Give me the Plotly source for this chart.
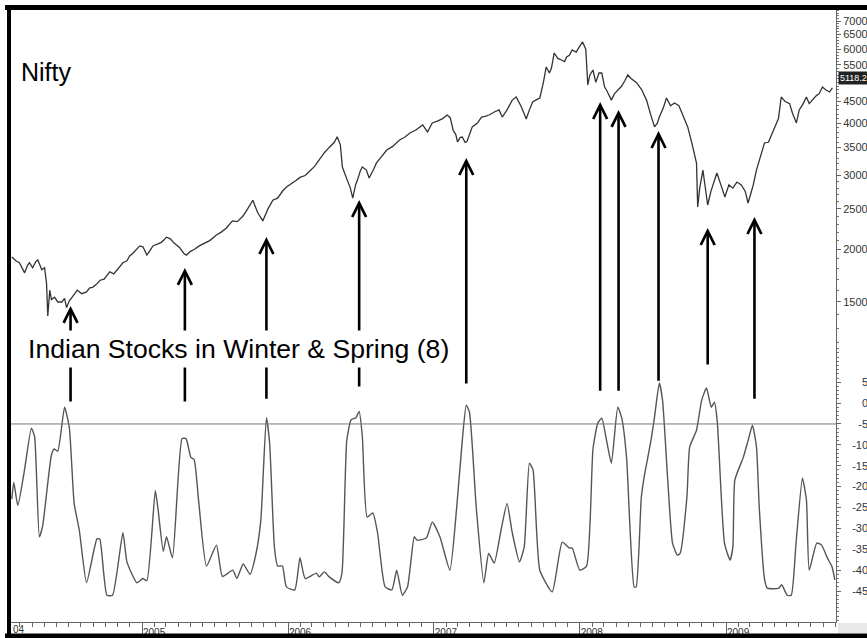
import math
import plotly.graph_objects as go

# ---------------- data ----------------
price_dates = [
    "2004-02-10", "2004-02-20", "2004-02-29", "2004-03-08", "2004-03-13", "2004-03-20", "2004-03-25",
    "2004-04-02", "2004-04-10", "2004-04-15", "2004-04-25", "2004-05-02", "2004-05-07", "2004-05-10",
    "2004-05-15", "2004-05-19", "2004-05-27", "2004-06-04", "2004-06-14", "2004-06-21", "2004-06-26",
    "2004-07-03", "2004-07-08", "2004-07-16", "2004-07-23", "2004-08-03", "2004-08-15", "2004-08-23",
    "2004-08-30", "2004-09-08", "2004-09-18", "2004-09-28", "2004-10-05", "2004-10-12", "2004-10-22",
    "2004-11-02", "2004-11-14", "2004-11-24", "2004-12-01", "2004-12-09", "2004-12-19", "2004-12-26",
    "2005-01-03", "2005-01-13", "2005-01-21", "2005-01-28", "2005-02-08", "2005-02-18", "2005-02-25",
    "2005-03-03", "2005-03-13", "2005-03-20", "2005-03-28", "2005-04-05", "2005-04-15", "2005-04-22",
    "2005-05-02", "2005-05-11", "2005-05-24", "2005-06-06", "2005-06-19", "2005-07-06", "2005-07-18",
    "2005-07-31", "2005-08-15", "2005-08-27", "2005-09-10", "2005-09-22", "2005-10-05", "2005-10-17",
    "2005-10-30", "2005-11-12", "2005-11-24", "2005-12-06", "2005-12-19", "2005-12-29",
    "2006-01-11", "2006-01-21", "2006-01-31", "2006-02-13", "2006-02-25", "2006-03-08", "2006-03-20",
    "2006-04-02", "2006-04-14", "2006-04-27", "2006-05-04", "2006-05-12", "2006-05-17", "2006-05-24",
    "2006-05-29", "2006-06-06", "2006-06-12", "2006-06-19", "2006-06-24", "2006-07-01", "2006-07-06",
    "2006-07-16", "2006-07-23", "2006-08-03", "2006-08-10", "2006-08-20", "2006-09-05", "2006-09-20",
    "2006-10-07", "2006-10-20", "2006-11-02", "2006-11-17", "2006-12-04", "2006-12-16", "2006-12-28",
    "2007-01-11", "2007-01-23", "2007-02-03", "2007-02-11", "2007-02-18", "2007-02-25", "2007-03-01",
    "2007-03-08", "2007-03-13", "2007-03-20", "2007-03-25", "2007-04-07", "2007-04-20", "2007-04-30",
    "2007-05-09", "2007-05-19", "2007-06-01", "2007-06-13", "2007-06-21", "2007-07-03", "2007-07-16",
    "2007-07-26", "2007-08-08", "2007-08-20", "2007-08-28", "2007-09-05", "2007-09-15", "2007-09-23",
    "2007-10-02", "2007-10-09", "2007-10-17", "2007-10-22", "2007-10-29", "2007-11-07", "2007-11-16",
    "2007-11-24", "2007-11-29", "2007-12-06", "2007-12-13", "2007-12-23",
    "2008-01-01", "2008-01-08", "2008-01-16", "2008-01-21", "2008-01-26", "2008-02-03", "2008-02-10",
    "2008-02-18", "2008-02-25", "2008-03-03", "2008-03-10", "2008-03-20", "2008-03-28", "2008-04-05",
    "2008-04-15", "2008-04-23", "2008-04-30", "2008-05-09", "2008-05-22", "2008-06-04", "2008-06-16",
    "2008-06-26", "2008-07-06", "2008-07-13", "2008-07-18", "2008-07-28", "2008-08-05", "2008-08-15",
    "2008-08-25", "2008-09-05", "2008-09-17", "2008-09-27", "2008-10-07", "2008-10-14", "2008-10-19",
    "2008-10-22", "2008-10-27", "2008-11-04", "2008-11-11", "2008-11-16", "2008-11-24", "2008-12-01",
    "2008-12-09", "2008-12-19", "2008-12-29",
    "2009-01-08", "2009-01-18", "2009-01-28", "2009-02-08", "2009-02-18", "2009-02-25", "2009-03-03",
    "2009-03-10", "2009-03-18", "2009-03-28", "2009-04-07", "2009-04-17", "2009-04-27", "2009-05-04",
    "2009-05-12", "2009-05-19", "2009-05-29", "2009-06-09", "2009-06-16", "2009-06-26", "2009-07-03",
    "2009-07-13", "2009-07-21", "2009-07-28", "2009-08-05", "2009-08-15", "2009-08-22", "2009-08-30",
    "2009-09-07", "2009-09-17", "2009-09-24",
]
price_values = [
    1920, 1880, 1860, 1800, 1760, 1830, 1860,
    1810, 1870, 1890, 1790, 1810, 1660, 1390,
    1600, 1520, 1540, 1500, 1500, 1530, 1455,
    1510, 1530, 1570, 1600, 1570, 1585, 1620,
    1625, 1650, 1690, 1700, 1740, 1770, 1750,
    1800, 1860, 1880, 1930, 1960, 2010, 2040,
    2030, 1940, 1990, 2040, 2060, 2080, 2110,
    2140, 2120, 2080, 2050, 2020, 1960, 1940,
    1980, 2000, 2040, 2070, 2100, 2165, 2200,
    2250, 2340, 2330, 2400, 2500, 2620, 2450,
    2340, 2500, 2620, 2650, 2760, 2820,
    2870, 2920, 2970, 3000, 3080, 3150, 3270,
    3400, 3500, 3600, 3710, 3550, 3144, 3000,
    2930, 2800, 2650, 2850, 2930, 3080, 3144,
    3092, 2960, 3100, 3210, 3300, 3450, 3520,
    3645, 3700, 3789, 3850, 3958, 3810, 4003,
    4050, 4100, 4181, 4120, 3851, 3750, 3607,
    3700, 3706, 3600, 3620, 3917, 4000, 4135,
    4150, 4181, 4250, 4298, 4135, 4300, 4537,
    4614, 4369, 4090, 4300, 4490, 4550, 4589,
    5000, 5440, 5263, 5400, 5874, 5700, 5652,
    5600, 5745, 5800, 5971, 5900,
    6100, 6239, 6000, 4929, 5200, 5351, 5000,
    5263, 5263, 4880, 4750, 4537, 4700, 4795,
    4900, 5050, 5207, 5100, 4990, 4800, 4537,
    4200, 3917, 4000, 4135, 4350, 4589, 4400,
    4465, 4400, 4150, 3917, 3600, 3400, 3213,
    2525, 2800, 3092, 2800, 2553, 2750, 2900,
    3042, 2850, 2668,
    2850, 2800, 2895, 2850, 2750, 2581, 2700,
    2850, 3092, 3350, 3587, 3600, 3789, 3900,
    4100, 4614, 4500, 4450, 4227, 4003, 4300,
    4450, 4614, 4450, 4537, 4650, 4700, 4876,
    4800, 4743, 4850,
]

osc_dates = [
    "2004-02-10", "2004-02-15", "2004-02-25", "2004-03-12", "2004-03-30", "2004-04-07", "2004-04-19",
    "2004-04-27", "2004-05-19", "2004-05-26", "2004-06-04", "2004-06-21", "2004-07-03", "2004-07-15",
    "2004-07-28", "2004-08-15", "2004-09-10", "2004-09-17", "2004-10-05", "2004-10-19", "2004-11-14",
    "2004-11-24", "2004-12-19", "2005-01-03", "2005-01-13", "2005-02-03", "2005-02-10", "2005-02-23",
    "2005-03-03", "2005-03-18", "2005-04-11", "2005-04-21", "2005-05-03", "2005-05-11", "2005-05-23",
    "2005-06-11", "2005-07-06", "2005-07-21", "2005-08-16", "2005-08-26", "2005-09-11", "2005-09-28",
    "2005-10-13", "2005-10-25", "2005-11-08", "2005-11-16", "2005-11-28", "2005-12-06", "2005-12-18",
    "2005-12-28", "2006-01-18", "2006-01-31", "2006-02-13", "2006-03-13", "2006-03-20", "2006-04-02",
    "2006-04-14", "2006-05-08", "2006-05-16", "2006-05-28", "2006-06-08", "2006-06-20", "2006-06-28",
    "2006-07-06", "2006-07-18", "2006-08-01", "2006-08-13", "2006-09-01", "2006-09-18", "2006-09-30",
    "2006-10-14", "2006-10-27", "2006-11-13", "2006-11-20", "2006-12-13", "2006-12-28", "2007-01-16",
    "2007-02-10", "2007-02-27", "2007-03-13", "2007-03-23", "2007-03-31", "2007-04-17", "2007-05-06",
    "2007-05-18", "2007-06-01", "2007-06-18", "2007-07-03", "2007-07-16", "2007-08-03", "2007-08-15",
    "2007-08-28", "2007-09-06", "2007-09-23", "2007-10-24", "2007-11-18", "2007-12-06", "2007-12-13",
    "2008-01-01", "2008-01-18", "2008-02-03", "2008-02-15", "2008-02-25", "2008-03-08", "2008-03-20",
    "2008-04-05", "2008-04-15", "2008-04-27", "2008-05-16", "2008-05-21", "2008-06-03", "2008-06-10",
    "2008-06-27", "2008-07-06", "2008-07-18", "2008-07-26", "2008-08-08", "2008-08-20", "2008-09-01",
    "2008-09-08", "2008-09-25", "2008-10-02", "2008-10-19", "2008-11-01", "2008-11-13", "2008-11-25",
    "2008-12-03", "2008-12-10", "2008-12-28", "2009-01-11", "2009-01-18", "2009-01-23", "2009-02-13",
    "2009-02-25", "2009-03-08", "2009-03-18", "2009-03-25", "2009-04-07", "2009-04-14", "2009-05-13",
    "2009-05-20", "2009-06-03", "2009-06-13", "2009-06-25", "2009-07-11", "2009-07-21", "2009-07-28",
    "2009-08-16", "2009-08-28", "2009-09-11", "2009-09-23", "2009-09-30",
]
osc_values = [
    -23, -19, -24.5, -16.5, -6, -8, -32,
    -29.5, -12.5, -11, -11.5, -1, -6, -24,
    -30.5, -43, -32.5, -32.5, -46, -46, -31,
    -38, -43, -42, -42.5, -21, -25.5, -35.5,
    -32, -37, -8.5, -8.5, -13, -13.5, -24,
    -39, -34, -41.5, -40, -42, -38.5, -41,
    -36, -28, -3.5, -9.5, -34.5, -39, -39,
    -44, -44.7, -37, -42, -40.7, -41.6, -40.4,
    -41.6, -43, -40.7, -9, -4, -3.5, -2,
    -8, -27.3, -26.3, -31, -44, -44.7, -40,
    -46, -44, -32, -32.8, -32.3, -28.5, -32,
    -40, -25, -9, -0.5, -2.2, -25, -43,
    -36, -38.3, -30.4, -24, -31, -38, -34.4,
    -14.4, -16, -40, -45.2, -33.3, -34.7, -34.7,
    -40, -39, -11, -4.8, -3.6, -9, -14.4,
    -1, -3.6, -13, -44, -44, -22.5, -17.7,
    -9, -3.3, 4.8, 0.7, -18.4, -33.5, -36.4,
    -36, -22.5, -10.5, -6.5, 0.7, 3.6, -1,
    0.2, -4.5, -33.5, -37.6, -34.4, -18.4, -13,
    -9, -5.3, -10.5, -25, -42, -44.3, -44.3,
    -43.5, -46, -46, -33.5, -18, -23.2, -40,
    -33.5, -34, -37, -39.2, -42.3,
]

OSC_LEVEL = -5
LAST_VALUE = 5118.2

# arrows: date, price level at arrow tip, oscillator level at arrow tail
arrow_dates = ["2004-07-06", "2005-04-18", "2005-11-08", "2006-06-28", "2007-03-23",
               "2008-02-21", "2008-04-07", "2008-07-16", "2008-11-16", "2009-03-13"]
arrow_tip_price = [1468, 1808, 2142, 2623, 3303, 4490, 4298, 3830, 2250, 2390]
arrow_tail_osc = [0, 0, 0.7, 3.6, 4.3, 2.6, 2.6, 5, 8.9, 0.7]

price_tick_values = [1500, 2000, 2500, 3000, 3500, 4000, 4500, 5500, 6000, 6500, 7000]
osc_tick_values = [5, 0, -5, -10, -15, -20, -25, -30, -35, -40, -45]

title_text = "Nifty"
note_text = "Indian Stocks in Winter & Spring (8)"

# ---------------- layout geometry ----------------
W, H = 867, 638
ML, MR, MT, MB = 11, 31, 10, 16
PW = W - ML - MR
PH = H - MT - MB
SPLIT_PX = 345
split_frac = (H - MB - SPLIT_PX) / PH
PRICE_RANGE = [3.07367, 3.87129]
OSC_RANGE = [-52.4, 13.9]
FONT = "Arial, Liberation Sans, Helvetica, sans-serif"


def px_to_paper_x(px):
    return (px - ML) / PW


def px_to_paper_y(py):
    return (H - MB - py) / PH


def price_px(p):
    return MT + (PRICE_RANGE[1] - math.log10(p)) / (PRICE_RANGE[1] - PRICE_RANGE[0]) * (SPLIT_PX - MT)


def osc_px(v):
    return SPLIT_PX + (OSC_RANGE[1] - v) / (OSC_RANGE[1] - OSC_RANGE[0]) * (H - MB - SPLIT_PX)


fig = go.Figure()
fig.add_trace(go.Scatter(x=price_dates, y=price_values, mode="lines",
                         line=dict(color="#333333", width=1.3), xaxis="x", yaxis="y",
                         showlegend=False, hoverinfo="skip"))
fig.add_trace(go.Scatter(x=osc_dates, y=osc_values, mode="lines",
                         line=dict(color="#555555", width=1.4, shape="spline", smoothing=0.5),
                         xaxis="x", yaxis="y2", showlegend=False, hoverinfo="skip"))

annotations = []
for d, tip, tail in zip(arrow_dates, arrow_tip_price, arrow_tail_osc):
    annotations.append(dict(
        x=d, y=math.log10(tip), xref="x", yref="y", text="", showarrow=True,
        ax=0, ay=osc_px(tail) - price_px(tip), axref="pixel", ayref="pixel",
        arrowhead=5, arrowsize=1.05, arrowwidth=2.6, arrowcolor="black", standoff=0,
    ))

annotations.append(dict(
    x=px_to_paper_x(24), y=px_to_paper_y(349), xref="paper", yref="paper",
    xanchor="left", yanchor="middle", text=note_text, showarrow=False,
    font=dict(family=FONT, size=26.6, color="black"), bgcolor="white", borderpad=3,
))
annotations.append(dict(
    x=px_to_paper_x(19), y=px_to_paper_y(72), xref="paper", yref="paper",
    xanchor="left", yanchor="middle", text=title_text, showarrow=False,
    font=dict(family=FONT, size=25, color="black"),
))
annotations.append(dict(
    x=1, y=math.log10(LAST_VALUE), xref="paper", yref="y", xanchor="left", yanchor="middle",
    xshift=2, text=f"{LAST_VALUE:.1f}", showarrow=False, bgcolor="#222222", borderpad=1,
    font=dict(family=FONT, size=9, color="white"),
))
annotations.append(dict(
    x=0, y=px_to_paper_y(629), xref="paper", yref="paper", xanchor="left", yanchor="middle",
    text="04", showarrow=False, font=dict(family=FONT, size=10, color="#333333"),
))

shapes = [
    dict(type="line", xref="paper", yref="y2", x0=0, x1=1, y0=OSC_LEVEL, y1=OSC_LEVEL,
         line=dict(color="#777777", width=1)),
    dict(type="rect", xref="paper", yref="paper", x0=px_to_paper_x(838), x1=px_to_paper_x(870),
         y0=px_to_paper_y(633), y1=px_to_paper_y(623), fillcolor="#e8e8e8", line=dict(width=0),
         layer="below"),
    dict(type="line", xref="paper", yref="paper", x0=px_to_paper_x(5), x1=px_to_paper_x(870),
         y0=px_to_paper_y(7.5), y1=px_to_paper_y(7.5), line=dict(color="black", width=5)),
    dict(type="line", xref="paper", yref="paper", x0=px_to_paper_x(9), x1=px_to_paper_x(9),
         y0=px_to_paper_y(5), y1=px_to_paper_y(638), line=dict(color="black", width=4)),
    dict(type="line", xref="paper", yref="paper", x0=px_to_paper_x(5), x1=px_to_paper_x(870),
         y0=px_to_paper_y(636), y1=px_to_paper_y(636), line=dict(color="black", width=5)),
]

osc_ticktext = []
for v in osc_tick_values:
    s = str(v)
    pad = 3 - len(s)
    if pad > 0:
        hidden = "-4"[:pad] if v >= 0 else "4"
        s = f"<span style='color:rgba(0,0,0,0)'>{hidden}</span>" + s
    osc_ticktext.append(s)

fig.update_layout(
    width=W, height=H,
    margin=dict(l=ML, r=MR, t=MT, b=MB, autoexpand=False),
    paper_bgcolor="white", plot_bgcolor="white",
    font=dict(family=FONT),
    showlegend=False,
    xaxis=dict(
        type="date", range=["2004-02-08", "2009-10-03"], domain=[0, 1], anchor="y2",
        showline=True, linecolor="#666666", linewidth=1, showgrid=False, zeroline=False,
        ticks="outside", ticklen=11, tickcolor="#666666", tickwidth=1,
        tick0="2004-01-01", dtick="M12", tickformat="%Y",
        tickfont=dict(family=FONT, size=10, color="#333333"),
        ticklabelshift=12, ticklabelstandoff=-10,
        minor=dict(ticks="outside", dtick="M1", tick0="2004-01-01", ticklen=4,
                   tickcolor="#666666", tickwidth=1),
    ),
    yaxis=dict(
        type="log", range=PRICE_RANGE, domain=[split_frac, 1], anchor="x", side="right",
        showline=True, linecolor="#666666", linewidth=1, showgrid=False, zeroline=False,
        ticks="outside", ticklen=4, tickcolor="#666666",
        tickmode="array", tickvals=price_tick_values, ticktext=[str(v) for v in price_tick_values],
        tickfont=dict(family=FONT, size=11, color="#333333"),
        minor=dict(ticks="outside", tickmode="array", tickvals=list(range(1200, 7600, 100)),
                   ticklen=2, tickcolor="#777777"),
    ),
    yaxis2=dict(
        range=OSC_RANGE, domain=[0, split_frac], anchor="x", side="right",
        showline=True, linecolor="#666666", linewidth=1, showgrid=False, zeroline=False,
        ticks="outside", ticklen=4, tickcolor="#666666",
        tickmode="array", tickvals=osc_tick_values, ticktext=osc_ticktext,
        tickfont=dict(family=FONT, size=11, color="#333333"), ticklabelstandoff=9,
        minor=dict(ticks="outside", dtick=1, ticklen=2, tickcolor="#777777"),
    ),
    annotations=annotations,
    shapes=shapes,
)

fig.write_html(
    "out.html",
    config={"displayModeBar": False},
    post_script="document.body.style.margin='0';document.body.style.overflow='hidden';",
)
